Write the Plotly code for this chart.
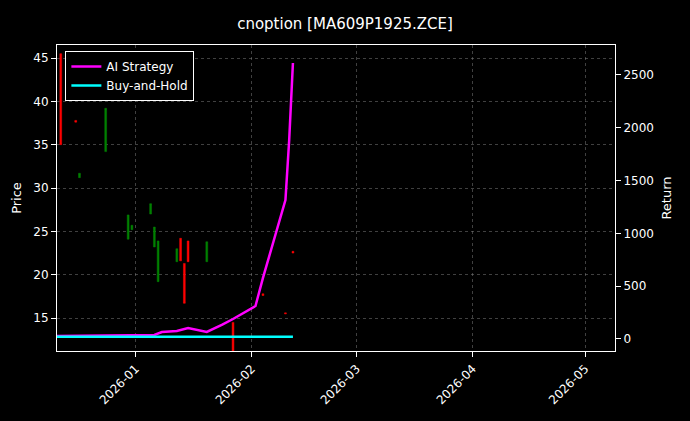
import plotly.graph_objects as go

c_dates = ["2025-12-12","2025-12-16","2025-12-17","2025-12-24","2025-12-30","2025-12-31","2026-01-05","2026-01-06","2026-01-07","2026-01-12","2026-01-13","2026-01-14","2026-01-15","2026-01-20","2026-01-27","2026-02-04","2026-02-10","2026-02-12"]
c_open  = [45.5,37.8,31.2,34.2,24.1,25.2,27.0,23.2,19.2,21.5,24.2,21.3,23.9,21.5,14.5,17.8,15.6,22.7]
c_close = [35.0,37.6,31.7,39.2,26.9,25.7,28.2,25.5,23.9,23.0,21.6,16.7,21.5,23.8,11.2,17.6,15.5,22.5]

r_dates = ["2025-12-11","2026-01-06","2026-01-08","2026-01-12","2026-01-15","2026-01-20","2026-01-24","2026-01-27","2026-02-02","2026-02-04","2026-02-10","2026-02-11","2026-02-12"]
ai_ret = [28,38,66,76,104,66,133,189,312,578,1316,1884,2614]
bh_dates = ["2025-12-11","2026-02-12"]
bh_ret = [20,20]

highs = [max(o,c) for o,c in zip(c_open,c_close)]
lows = [min(o,c) for o,c in zip(c_open,c_close)]

fig = go.Figure()
fig.add_trace(go.Candlestick(x=c_dates, open=c_open, high=highs, low=lows, close=c_close,
    increasing=dict(line=dict(color="green", width=0.5), fillcolor="green"),
    decreasing=dict(line=dict(color="red", width=0.5), fillcolor="red"),
    whiskerwidth=0, showlegend=False))
fig.add_trace(go.Scatter(x=r_dates, y=ai_ret, mode="lines", name="AI Strategy",
    line=dict(color="magenta", width=2.5), yaxis="y2"))
fig.add_trace(go.Scatter(x=bh_dates, y=bh_ret, mode="lines", name="Buy-and-Hold",
    line=dict(color="cyan", width=2.5), yaxis="y2"))

ax = dict(showline=True, linecolor="white", mirror=True, ticks="outside", tickcolor="white",
          gridcolor="rgba(128,128,128,0.5)", griddash="dot", gridwidth=0.6, zeroline=False,
          tickfont=dict(color="white", size=12))
fig.update_layout(
    width=690, height=421, paper_bgcolor="black", plot_bgcolor="black",
    font=dict(family="DejaVu Sans", color="white"),
    title=dict(text="cnoption [MA609P1925.ZCE]", x=0.5, y=0.955, font=dict(size=15)),
    margin=dict(l=57, r=75, t=45, b=70, autoexpand=False),
    xaxis=dict(ax, type="date", range=["2025-12-11","2026-05-09"], dtick="M1",
               tick0="2026-01-01", tickformat="%Y-%m", tickangle=-45,
               rangeslider=dict(visible=False)),
    yaxis=dict(ax, range=[11.2, 46.5], dtick=5, title=dict(text="Price", font=dict(size=13), standoff=8)),
    yaxis2=dict(ax, overlaying="y", side="right", range=[-114, 2784], dtick=500,
                showgrid=False, title=dict(text="Return", font=dict(size=13), standoff=8)),
    legend=dict(x=0.015, y=0.98, bgcolor="black", bordercolor="white", borderwidth=1,
                font=dict(size=12, color="white")),
)
fig.write_html("out.html", config={"displayModeBar": False},
               post_script="document.body.style.margin='0';document.body.style.background='black';")
